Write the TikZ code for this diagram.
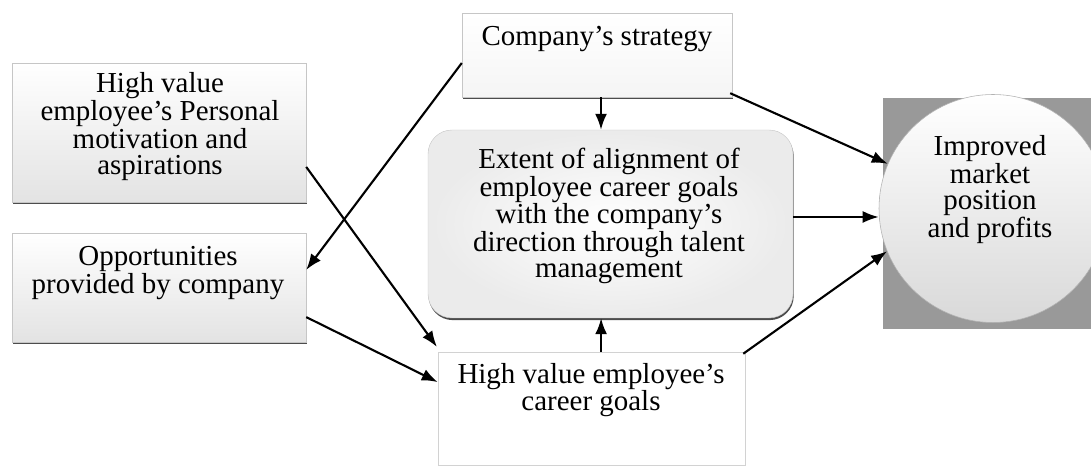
\documentclass[tikz,border=0pt]{standalone}
\usepackage{fontspec}
\setmainfont{Liberation Serif}
\usetikzlibrary{arrows.meta,shadows}

\begin{document}
\begin{tikzpicture}[every node/.style={inner sep=0pt, align=center, font=\fontsize{20.6}{18.6}\selectfont},
		box/.style={draw=gray!45, line width=0.3pt, top color=white, bottom color=gray!22,
			drop shadow={shadow xshift=0.5pt, shadow yshift=-1.5pt, fill=black!70, opacity=1}},
		plainbox/.style={draw=gray!35, line width=0.4pt, fill=white},
		arr/.style={-{Latex[length=4mm,width=3mm]}, line width=1.5pt}]
	\useasboundingbox (0,0) rectangle (27.275,11.7);
	% boxes
	\node[box, minimum width=7.35cm, minimum height=3.475cm] (motiv) at (3.975,8.3875) {};
	\node[box, minimum width=7.35cm, minimum height=2.725cm] (opport) at (3.975,4.5125) {};
	\node[box, bottom color=gray!8, minimum width=6.75cm, minimum height=2.1cm] (strategy) at (14.925,10.325) {};
	\node[box, rounded corners=0.6cm, shading=radial, inner color=white, outer color=gray!16,
		minimum width=9.125cm, minimum height=4.7cm] (align) at (15.2625,6.1) {};
	\node[plainbox, minimum width=7.675cm, minimum height=2.825cm] (career) at (14.7875,1.4875) {};
	\node[fill=black!40, minimum width=5.2cm, minimum height=5.775cm] (frame) at (24.675,6.3625) {};
	\node[circle, draw=gray!60, line width=0.4pt, top color=white, bottom color=gray!30,
		minimum size=5.7cm] (result) at (24.825,6.4875) {};
	% texts
	\node (motivtxt) at (4.0,8.54) {High value\\employee’s Personal\\motivation and\\aspirations};
	\node (opporttxt) at (3.95,4.875) {Opportunities\\provided by company};
	\node (strategytxt) at (14.925,10.7125) {Company’s strategy};
	\node (aligntxt) at (15.225,6.3) {Extent of alignment of\\employee career goals\\with the company’s\\direction through talent\\management};
	\node (careertxt) at (14.775,1.95) {High value employee’s\\career goals};
	\node (resulttxt) at (24.75,6.9625) {Improved\\market\\position\\and profits};
	% links
	\draw[arr] ([yshift=-2mm]strategy.west) -- ([yshift=4.4mm]opport.east);
	\draw[arr] ([yshift=-8.6mm]motiv.east) -- ([xshift=-0.2mm,yshift=1.2mm]career.north west);
	\draw[arr] ([yshift=-7.4mm]opport.east) -- ([yshift=6.6mm]career.west);
	\draw[arr] ([xshift=1mm]strategy.south) -- ([xshift=1mm]strategy.south |- align.north);
	\draw[arr] ([xshift=2.4mm]career.north) -- ([xshift=2.4mm]career.north |- align.south);
	\draw[arr] ([xshift=-0.5mm,yshift=1mm]strategy.south east) -- (result.157);
	\draw[arr] ([yshift=1.75mm]align.east) -- ([yshift=1.75mm]align.east -| result.west);
	\draw[arr] ([xshift=-0.5mm,yshift=-0.5mm]career.north east) -- (result.202);
\end{tikzpicture}
\end{document}
